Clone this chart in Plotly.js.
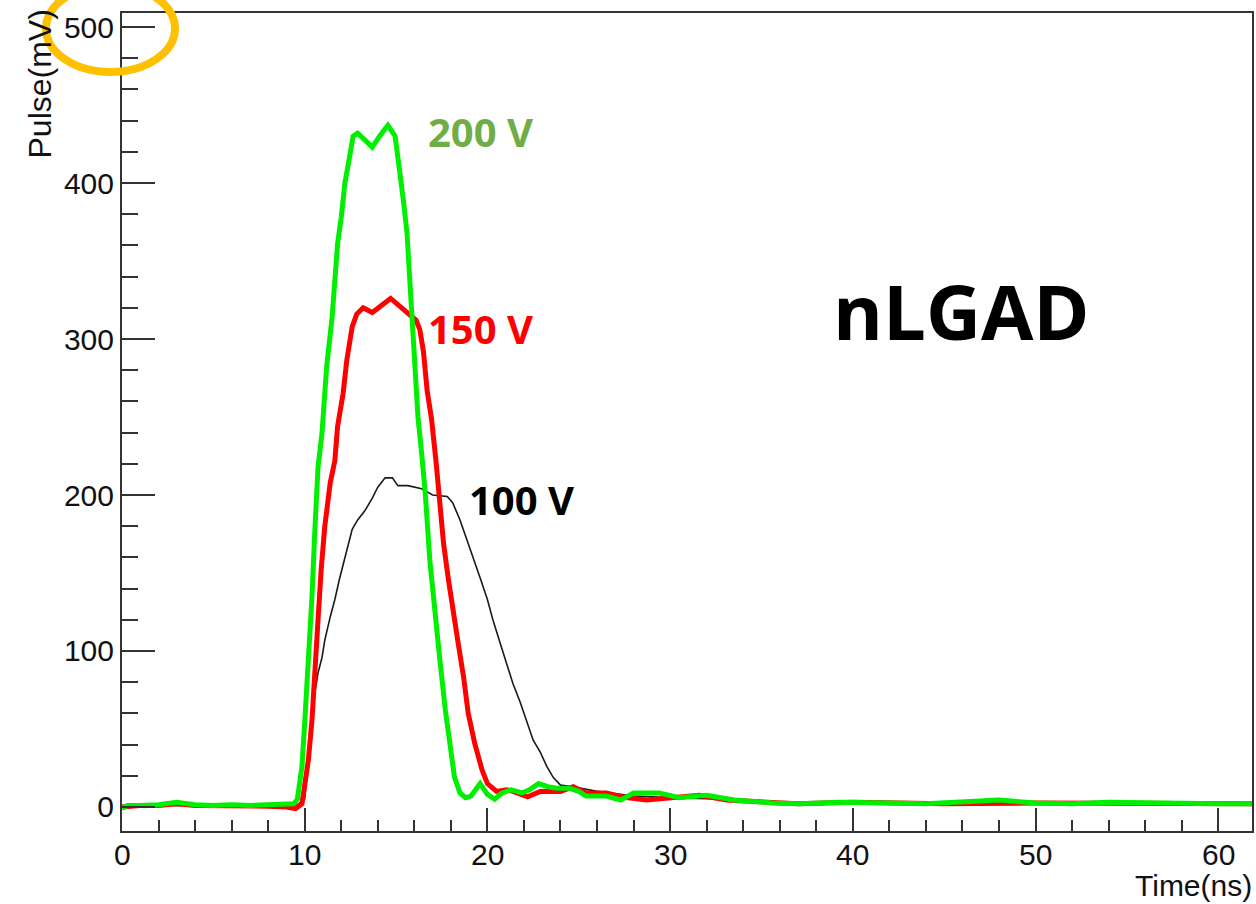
<!DOCTYPE html>
<html>
<head>
<meta charset="utf-8">
<script src="https://cdn.plot.ly/plotly-3.0.1.min.js"></script>
<style>html,body{margin:0;padding:0;background:#fff;}#chart{width:1256px;height:904px;}</style>
</head>
<body>
<div id="chart"></div>
<script>
// ---- data (time in ns, pulse in mV) ----
const t200 = [0, 0.3, 1, 2, 3, 4, 5, 6, 7, 8, 9, 9.4, 9.6, 9.85, 10.0, 10.2, 10.4, 10.55, 10.73, 10.95, 11.2, 11.5, 11.66, 11.8, 12.0, 12.2, 12.4, 12.65, 12.9, 13.3, 13.7, 14.1, 14.55, 14.95, 15.2, 15.4, 15.6, 15.7, 15.87, 16.0, 16.2, 16.4, 16.6, 16.85, 17.1, 17.4, 17.7, 17.95, 18.2, 18.5, 18.8, 19.1, 19.6, 20.0, 20.4, 20.8, 21.3, 21.9, 22.3, 22.8, 23.3, 23.8, 24.5, 25.0, 25.4, 26.0, 26.5, 27.3, 28.0, 29.4, 30.5, 32.0, 33.5, 35.6, 37.1, 39.3, 40.2, 42, 44, 46, 48, 50, 52, 54, 56, 58, 60, 62];
const v200 = [-1, 1, 1, 1.5, 3, 1.5, 1, 1.5, 1, 1.5, 1.5, 2, 5, 26, 54, 90, 135, 176, 218, 240, 282, 314, 336, 361, 378, 400, 413, 430, 432, 427, 423, 430, 437, 430, 410, 389, 368, 346, 314, 282, 250, 227, 201, 158, 126, 94, 62, 41, 19, 9, 6, 7, 15, 8, 5, 9, 11, 9, 11, 15, 13, 12, 12, 10, 7, 7, 7, 4.5, 9, 9, 6, 7.5, 4.5, 2.6, 2, 3, 3, 2.5, 2, 3, 4.5, 2.5, 2, 3, 2.5, 2, 2, 2];

const t150 = [0, 1, 2, 3, 4, 5, 6, 7, 8, 9, 9.5, 9.85, 10.2, 10.4, 10.55, 10.73, 10.9, 11.1, 11.4, 11.65, 11.8, 12.1, 12.3, 12.6, 12.85, 13.2, 13.7, 14.2, 14.7, 15.1, 15.65, 16.1, 16.3, 16.5, 16.7, 16.95, 17.2, 17.35, 17.6, 17.85, 18.1, 18.4, 18.7, 18.95, 19.3, 19.7, 20.0, 20.5, 21.05, 21.4, 22.2, 22.9, 23.5, 24.0, 24.7, 25.4, 26.5, 27.6, 28.7, 30.2, 31.6, 33.1, 35, 37, 40, 45, 50, 55, 62];
const v150 = [0, 1, 1, 2, 1, 1, 1, 1, 0.5, 0, -1, 2, 30, 56, 90, 120, 152, 180, 208, 222, 244, 265, 286, 308, 316, 320, 317, 322, 326, 322, 317, 312, 306, 292, 267, 248, 220, 201, 169, 147, 126, 105, 83, 60, 41, 24, 15, 10, 11, 10, 6.5, 10, 10, 10, 13, 9, 9, 6, 4.5, 6, 7.5, 4.5, 3, 2, 3, 2, 2.5, 2, 2];

const t100 = [0, 2, 4, 6, 8, 9.5, 10.0, 10.2, 10.45, 10.55, 10.73, 10.95, 11.1, 11.4, 11.65, 11.9, 12.2, 12.6, 12.9, 13.3, 13.7, 14.0, 14.4, 14.8, 15.1, 15.65, 16.4, 17.0, 17.8, 18.1, 18.5, 18.9, 19.2, 19.6, 20.0, 20.3, 20.7, 21.05, 21.4, 21.8, 22.2, 22.5, 22.9, 23.25, 23.6, 24.0, 24.7, 26, 28, 30, 33, 36, 40, 45, 50, 55, 62];
const v100 = [0.5, 1, 1, 1, 1, 0.5, 5, 30, 56, 73, 86, 96, 107, 122, 133, 146, 160, 178, 184, 190, 198, 205, 211, 211, 206, 206, 204, 200, 199, 195, 184, 171, 160, 147, 133, 120, 105, 92, 79, 67, 54, 43, 35, 26, 19, 14, 13, 10, 7, 6, 5, 3, 3, 2, 2.5, 2, 2];

const xTicks = [0, 10, 20, 30, 40, 50, 60];
const yTicks = [0, 100, 200, 300, 400, 500];
const seriesLabels = ["200 V", "150 V", "100 V"];
const deviceLabel = "nLGAD";
const xTitle = "Time(ns)";
const yTitle = "Pulse(mV)";

// ---- layout helpers (pixel -> paper) ----
const L = 122, R = 1252, T = 13, B = 831;
const px = x => (x - L) / (R - L);
const py = y => (B - y) / (B - T);

const sans = "Liberation Sans, Arial, sans-serif";
const tickFont = {family: sans, size: 30, color: "#111"};
const labelFont = (c, s) => ({family: "Open Sans, sans-serif", size: s, color: c, weight: "bold"});

const traces = [
  {x: t100, y: v100, mode: "lines", line: {color: "#1a1a1a", width: 1.6}, name: seriesLabels[2]},
  {x: t150, y: v150, mode: "lines", line: {color: "#ff0000", width: 5}, name: seriesLabels[1]},
  {x: t200, y: v200, mode: "lines", line: {color: "#00ee00", width: 5}, name: seriesLabels[0]}
];

const axisCommon = {
  showgrid: false, zeroline: false, showline: true, mirror: true,
  linecolor: "#333", linewidth: 2, ticks: "inside", tickcolor: "#333", tickwidth: 2,
  tickfont: tickFont, tickmode: "array"
};

// x tick labels placed as annotations on the x data scale
const xTickLabels = xTicks.map(v => ({
  xref: "x", yref: "paper", x: v, y: py(855), text: String(v), showarrow: false,
  xanchor: "center", yanchor: "middle", font: tickFont
}));

const layout = {
  width: 1256, height: 904,
  margin: {l: L, r: 1256 - R, t: T, b: 904 - B, pad: 0},
  paper_bgcolor: "#fff", plot_bgcolor: "#fff",
  showlegend: false,
  xaxis: Object.assign({}, axisCommon, {
    range: [0, 61.85], tickvals: xTicks, ticktext: xTicks.map(String), ticklen: 23,
    minor: {ticks: "inside", dtick: 2, ticklen: 11, tickcolor: "#333", tickwidth: 2},
    showticklabels: false
  }),
  yaxis: Object.assign({}, axisCommon, {
    range: [-15.4, 509], tickvals: yTicks, ticktext: yTicks.map(String), ticklen: 33,
    minor: {ticks: "inside", dtick: 20, ticklen: 16, tickcolor: "#333", tickwidth: 2},
    ticklabelstandoff: 0
  }),
  annotations: xTickLabels.concat([
    {xref: "paper", yref: "paper", x: px(480), y: py(131), text: seriesLabels[0], showarrow: false, xanchor: "center", yanchor: "middle", font: labelFont("#70ad47", 40)},
    {xref: "paper", yref: "paper", x: px(480), y: py(328), text: seriesLabels[1], showarrow: false, xanchor: "center", yanchor: "middle", font: labelFont("#ff0000", 40)},
    {xref: "paper", yref: "paper", x: px(521), y: py(499), text: seriesLabels[2], showarrow: false, xanchor: "center", yanchor: "middle", font: labelFont("#000", 40)},
    {xref: "paper", yref: "paper", x: px(961), y: py(310), text: deviceLabel, showarrow: false, xanchor: "center", yanchor: "middle", font: labelFont("#000", 76)},
    {xref: "paper", yref: "paper", x: px(1254), y: py(904), text: xTitle, showarrow: false, xanchor: "right", yanchor: "bottom", font: {family: sans, size: 30, color: "#111"}},
    {xref: "paper", yref: "paper", x: px(40), y: py(8), text: yTitle, showarrow: false, textangle: -90, xanchor: "center", yanchor: "top", font: {family: sans, size: 32, color: "#111"}}
  ]),
  shapes: [
    {type: "circle", xref: "paper", yref: "paper", layer: "above",
     x0: px(46), x1: px(175), y0: py(72), y1: py(-15),
     line: {color: "#ffc000", width: 8}, fillcolor: "rgba(0,0,0,0)"}
  ]
};

Plotly.newPlot("chart", traces, layout, {displayModeBar: false, staticPlot: true});
</script>
</body>
</html>
